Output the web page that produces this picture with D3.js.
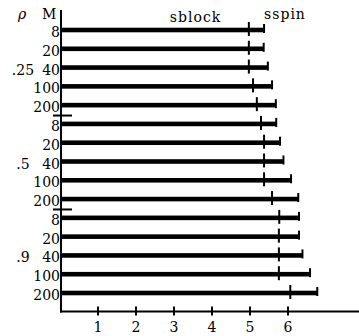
<!DOCTYPE html>
<html>
<head>
<meta charset="utf-8">
<script src="https://cdn.jsdelivr.net/npm/d3@7"></script>
<style>
  html, body { margin: 0; padding: 0; background: #fff; }
  svg { display: block; }
</style>
</head>
<body>
<div id="chart"></div>
<script>
// rho groups and M values (rows, top to bottom)
const rhoGroups = ['.25', '.5', '.9'];
const mValues = ['8', '20', '40', '100', '200'];

// bar ends (sspin) and marker positions (sblock)
const sspin = [5.37, 5.36, 5.47, 5.58, 5.68, 5.69, 5.79, 5.88, 6.08, 6.27, 6.29, 6.29, 6.38, 6.58, 6.77];
const sblock = [4.97, 4.97, 4.97, 5.08, 5.18, 5.29, 5.37, 5.37, 5.37, 5.58, 5.77, 5.76, 5.76, 5.76, 6.06];

const xTicks = [1, 2, 3, 4, 5, 6];

const width = 359;
const height = 336;
const fontFamily = "'DejaVu Serif', 'Liberation Serif', serif";
const fontSize = 14;

const rows = [];
rhoGroups.forEach((rho, g) => {
  mValues.forEach((m, k) => {
    const i = g * mValues.length + k;
    rows.push({ i, rho, m, sspin: sspin[i], sblock: sblock[i], first: k === 0, mid: k === 2 });
  });
});

const svg = d3.select('#chart')
  .append('svg')
  .attr('width', width)
  .attr('height', height)
  .attr('font-family', fontFamily)
  .attr('font-size', fontSize);

// Scales
const x = d3.scaleLinear().domain([0, 8]).range([60, 364]);
const y = d3.scalePoint().domain(rows.map(d => d.i)).range([30, 293]);

const axisX = 61;
const axisY = 311.5;

// Bars
svg.append('g')
  .selectAll('rect')
  .data(rows)
  .join('rect')
  .attr('x', axisX)
  .attr('y', d => y(d.i) - 2.3)
  .attr('width', d => x(d.sspin) - axisX)
  .attr('height', 4.6)
  .attr('fill', '#000');

// End ticks at sspin
svg.append('g')
  .selectAll('line')
  .data(rows)
  .join('line')
  .attr('x1', d => x(d.sspin))
  .attr('x2', d => x(d.sspin))
  .attr('y1', d => y(d.i) - 6)
  .attr('y2', d => y(d.i) + 3)
  .attr('stroke', '#000')
  .attr('stroke-width', 2);

// sblock markers
svg.append('g')
  .selectAll('line')
  .data(rows)
  .join('line')
  .attr('x1', d => x(d.sblock))
  .attr('x2', d => x(d.sblock))
  .attr('y1', d => y(d.i) - 8)
  .attr('y2', d => y(d.i) + 6)
  .attr('stroke', '#000')
  .attr('stroke-width', 2);

// Y axis
svg.append('line')
  .attr('x1', axisX).attr('x2', axisX)
  .attr('y1', 10).attr('y2', axisY + 1)
  .attr('stroke', '#000').attr('stroke-width', 2);

// Group separators on y axis
const seps = rows.filter(d => d.first && d.i > 0);
svg.append('g')
  .selectAll('line')
  .data(seps)
  .join('line')
  .attr('x1', 53).attr('x2', 72)
  .attr('y1', d => (y(d.i) + y(d.i - 1)) / 2 + 1)
  .attr('y2', d => (y(d.i) + y(d.i - 1)) / 2 + 1)
  .attr('stroke', '#000').attr('stroke-width', 2);

// X axis
svg.append('line')
  .attr('x1', axisX - 1).attr('x2', width)
  .attr('y1', axisY).attr('y2', axisY)
  .attr('stroke', '#000').attr('stroke-width', 2);

svg.append('g')
  .selectAll('line')
  .data(xTicks)
  .join('line')
  .attr('x1', d => x(d)).attr('x2', d => x(d))
  .attr('y1', axisY - 5).attr('y2', axisY + 4)
  .attr('stroke', '#000').attr('stroke-width', 2);

svg.append('g')
  .selectAll('text')
  .data(xTicks)
  .join('text')
  .attr('x', d => x(d))
  .attr('y', 332)
  .attr('text-anchor', 'middle')
  .text(d => d);

// Y labels (M)
svg.append('g')
  .selectAll('text')
  .data(rows)
  .join('text')
  .attr('x', 60)
  .attr('y', d => y(d.i) + 7)
  .attr('text-anchor', 'end')
  .text(d => d.m);

// Group labels (rho)
svg.append('g')
  .selectAll('text')
  .data(rows.filter(d => d.mid))
  .join('text')
  .attr('x', 23)
  .attr('y', d => y(d.i) + 7)
  .attr('text-anchor', 'middle')
  .text(d => d.rho);

// Header
svg.append('text')
  .attr('x', 22).attr('y', 19)
  .attr('text-anchor', 'middle')
  .attr('font-style', 'italic')
  .text('ρ');
svg.append('text')
  .attr('x', 42).attr('y', 19)
  .text('M');

svg.append('text')
  .attr('x', x(sblock[0]) - 79)
  .attr('y', 22)
  .attr('letter-spacing', 1)
  .text('sblock');
svg.append('text')
  .attr('x', x(sspin[0]))
  .attr('y', 19)
  .attr('letter-spacing', 1)
  .text('sspin');
</script>
</body>
</html>
